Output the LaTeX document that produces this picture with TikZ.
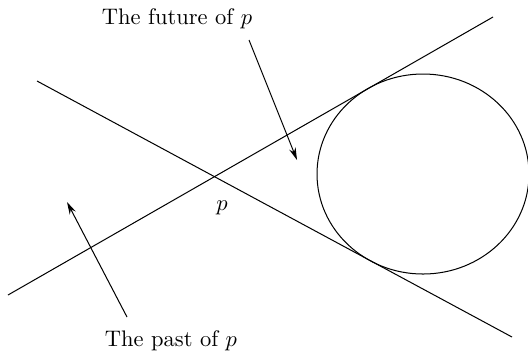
\documentclass[tikz,border=0pt]{standalone}
\usetikzlibrary{arrows.meta}
\begin{document}
\begin{tikzpicture}[x=0.4444pt,y=-0.4444pt,
  conn/.style={line width=0.45pt},
  pointer/.style={line width=0.45pt,-{Stealth[length=5.5pt,width=3pt]}},
  lbl/.style={inner sep=0pt}]
\useasboundingbox (0,0) rectangle (528,353);
% light cone lines
\coordinate (a1) at (8,295);
\coordinate (a2) at (493,17);
\coordinate (b1) at (37,81);
\coordinate (b2) at (512,337);
\draw[conn] (a1) -- (a2);
\draw[conn] (b1) -- (b2);
% closed curve
\coordinate (c) at (423,174);
\draw[conn] (c) ellipse [x radius=106, y radius=100];
% labels
\node[lbl] (p) at (222,208) {$p$};
\node[lbl] (fut) at (177,19) {The future of $p$};
\node[lbl] (past) at (171,341) {The past of $p$};
% pointers
\coordinate (f1) at (249,40);
\coordinate (f2) at (297,160);
\coordinate (q1) at (127,317);
\coordinate (q2) at (67,202);
\draw[pointer] (f1) -- (f2);
\draw[pointer] (q1) -- (q2);
\end{tikzpicture}
\end{document}
